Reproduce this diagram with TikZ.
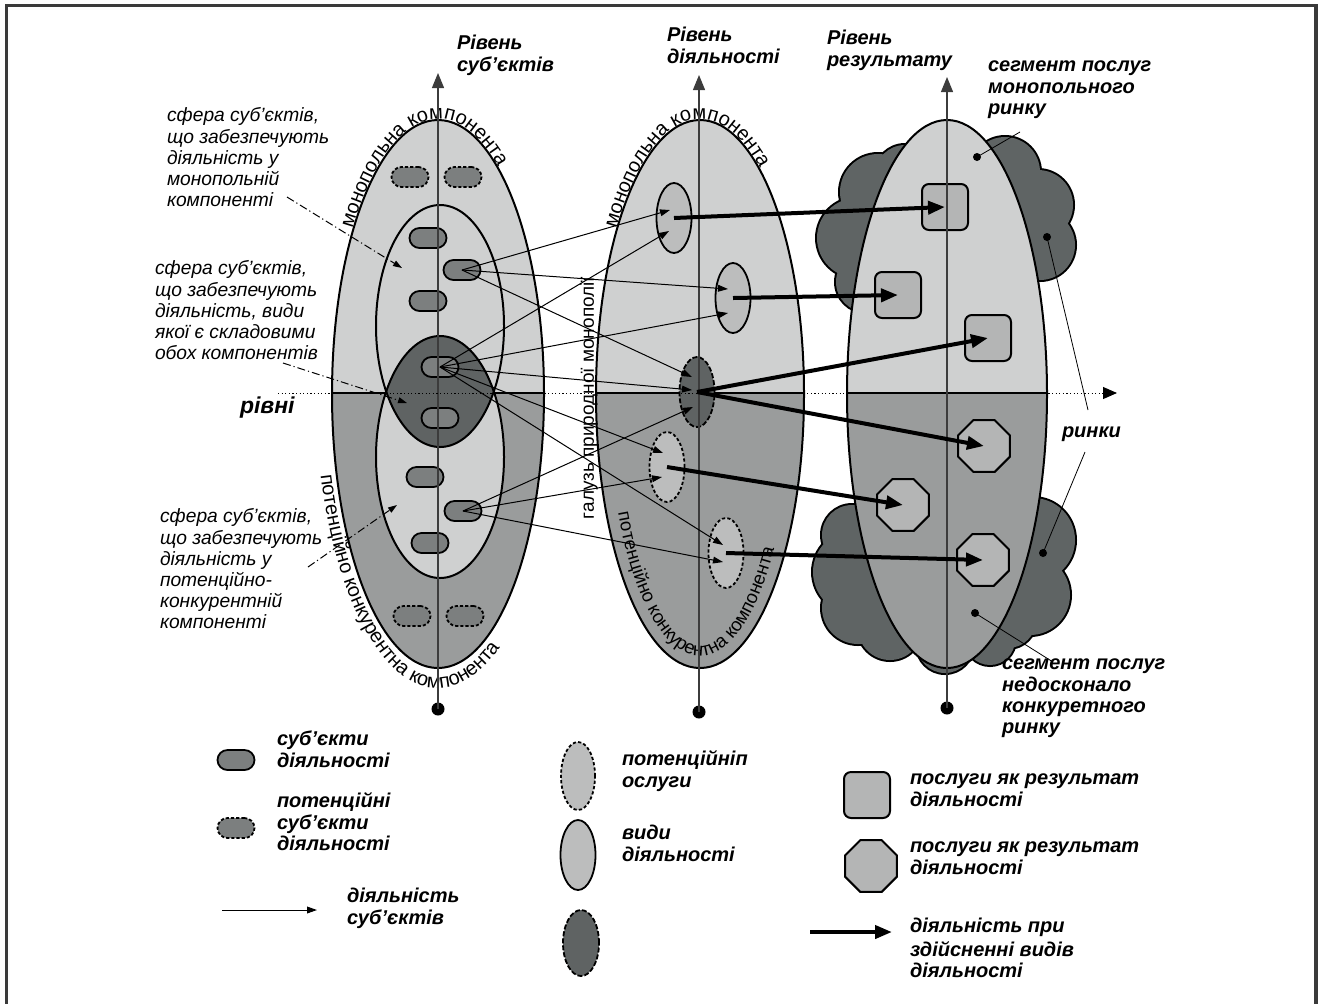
\documentclass[tikz,border=0pt]{standalone}
\usepackage{fontspec}
\setmainfont{Liberation Sans}
\usetikzlibrary{arrows.meta,shapes.geometric,decorations.text}

\definecolor{lightgr}{HTML}{CFD0D0}
\definecolor{midgr}{HTML}{9A9C9C}
\definecolor{darkgr}{HTML}{5F6363}
\definecolor{subjgr}{HTML}{7C7F7F}
\definecolor{resgr}{HTML}{B4B5B5}
\definecolor{actgr}{HTML}{BCBDBD}
\definecolor{axisgr}{HTML}{3C3C3C}
\definecolor{framegr}{HTML}{3A3A3A}
\definecolor{cloudgr}{HTML}{5F6464}

\newcommand\curvefont{\fontsize{10}{10}\selectfont}
\newcommand\innercurvefont{\fontsize{9.3}{9.3}\selectfont}
\newcommand\lblfont{\fontsize{10}{10.6}\selectfont}
\newcommand\sidefont{\fontsize{9.6}{10.6}\selectfont}

\begin{document}
\begin{tikzpicture}[x=0.5pt,y=-0.5pt,
  every node/.style={inner sep=0pt, outer sep=0pt},
  bigell/.style={draw=black, line width=1pt},
  subj/.style={draw=black, line width=0.9pt, fill=subjgr, rounded corners=5pt,
    minimum width=18.5pt, minimum height=10pt},
  psubj/.style={subj, dash pattern=on 1.6pt off 1pt},
  act/.style={ellipse, draw=black, line width=0.9pt, fill=actgr,
    minimum width=17.5pt, minimum height=35pt},
  pact/.style={act, dash pattern=on 1.6pt off 1.1pt},
  dact/.style={act, fill=darkgr, dash pattern=on 2.5pt off 1pt},
  res/.style={draw=black, line width=1pt, fill=resgr, rounded corners=3.5pt, minimum size=23pt},
  octo/.style={regular polygon, regular polygon sides=8, draw=black, line width=1pt,
    fill=resgr, minimum size=28pt},
  thinarr/.style={line width=0.5pt, -{Triangle[length=5pt,width=3.4pt]}},
  thickarr/.style={line width=2pt, -{Triangle[length=8.5pt,width=6.5pt]}},
  leader/.style={line width=0.5pt, dash pattern=on 4pt off 1.5pt on 0.6pt off 1.5pt,
    -{Triangle[length=4.5pt,width=3pt]}},
  leadline/.style={line width=0.4pt},
  blackdot/.style={circle, fill=black, minimum size=4pt},
  axisdot/.style={circle, fill=black, minimum size=6.5pt},
  axisline/.style={draw=axisgr, line width=0.6pt, -{Triangle[length=7.5pt,width=6pt]}},
  lbl/.style={anchor=north west, align=left, font=\sidefont\itshape},
  blbl/.style={anchor=north west, align=left, font=\lblfont\bfseries\itshape},
]
\useasboundingbox (0,0) rectangle (1338,1003);

% outer frame
\draw[framegr, line width=1.6pt] (6.5,1010) -- (6.5,5.5) -- (1316,5.5) -- (1316,1010);

% market clouds behind the result level
\def\cloudparts{905/175/30, 878/192/38, 857/238/40, 866/282/30, 1005/172/35,
  1038/205/35, 1040/245/35, 852/535/30, 855/572/42, 858/608/36, 890/628/32,
  945/645/28, 990/640/25, 1033/540/42, 1030/595/40, 1008/620/28}
\foreach \cx/\cy/\r in \cloudparts {\draw[line width=2pt] (\cx,\cy) circle[radius=\r];}
\foreach \cx/\cy/\r in \cloudparts {\fill[cloudgr] (\cx,\cy) circle[radius=\r];}

% the three levels: monopoly half on top, competitive half below
\foreach \cx/\rx in {438/106,700/104,947/100}{
  \begin{scope}
    \clip (\cx,394) ellipse[x radius=\rx, y radius=274];
    \fill[lightgr] (\cx-120,100) rectangle (\cx+120,393);
    \fill[midgr] (\cx-120,393) rectangle (\cx+120,700);
    \draw[line width=0.8pt] (\cx-120,393) -- (\cx+120,393);
  \end{scope}
  \draw[bigell] (\cx,394) ellipse[x radius=\rx, y radius=274];
}

% spheres of subjects and their overlap
\fill[lightgr] (440,326) ellipse[x radius=64, y radius=121];
\fill[lightgr] (440,457) ellipse[x radius=64, y radius=121];
\begin{scope}
  \clip (440,326) ellipse[x radius=64, y radius=121];
  \fill[darkgr] (440,457) ellipse[x radius=64, y radius=121];
\end{scope}
\draw[bigell] (440,326) ellipse[x radius=64, y radius=121];
\draw[bigell] (440,457) ellipse[x radius=64, y radius=121];

% curved component captions
\path[decorate, decoration={text along path, text={|\curvefont|монопольна компонента}}]
  (438,394) ++(-143:107 and 275) arc[start angle=-143, end angle=-10, x radius=107, y radius=275];
\path[decorate, decoration={text along path, text={|\curvefont|монопольна компонента}}]
  (700,394) ++(-143:105 and 275) arc[start angle=-143, end angle=-10, x radius=105, y radius=275];
\path[decorate, decoration={text along path, text={|\curvefont|потенційно конкурентна компонента}}]
  (438,394) ++(-196:122 and 294) arc[start angle=-196, end angle=-345, x radius=122, y radius=294];
\path[decorate, decoration={text along path, text={|\innercurvefont|потенційно конкурентна компонента}}]
  (700,394) ++(-207:92 and 262) arc[start angle=-207, end angle=-350, x radius=92, y radius=262];

\node[rotate=90, font=\fontsize{9.5}{9.5}\selectfont] (branch) at (589,398) {галузь природної монополії};

% subjects
\node[psubj] (p1) at (410,177) {};
\node[psubj] (p2) at (463,177) {};
\node[subj] (s1) at (428,238) {};
\node[subj] (s2) at (462,270) {};
\node[subj] (s3) at (428,301) {};
\node[subj] (s4) at (440,367) {};
\node[subj] (s5) at (440,418) {};
\node[subj] (s6) at (425,477) {};
\node[subj] (s7) at (463,511) {};
\node[subj] (s8) at (430,543) {};
\node[psubj] (p3) at (412,616) {};
\node[psubj] (p4) at (465,616) {};

% kinds of activity
\node[act] (a1) at (674,218) {};
\node[act] (a2) at (733,298) {};
\node[dact] (a3) at (697,392) {};
\node[pact] (a4) at (667,467) {};
\node[pact] (a5) at (726,553) {};

% services as results
\node[res] (r1) at (945,207) {};
\node[res] (r2) at (898,295) {};
\node[res] (r3) at (988,338) {};
\node[octo] (o1) at (984,446) {};
\node[octo] (o2) at (903,505) {};
\node[octo] (o3) at (983,560) {};

% level axes
\node[axisdot] (b1) at (438,709) {};
\node[axisdot] (b2) at (699,712) {};
\node[axisdot] (b3) at (947,708) {};
\coordinate (u1) at (438,73);
\coordinate (u2) at (699,75);
\coordinate (u3) at (947,77);
\draw[axisline] (b1.center) -- (u1);
\draw[axisline] (b2.center) -- (u2);
\draw[axisline] (b3.center) -- (u3);

% level boundary
\coordinate (hz0) at (278,393);
\coordinate (hz1) at (1117,393);
\draw[line width=0.5pt, dash pattern=on 0.6pt off 1.2pt, -{Triangle[length=7pt,width=6pt]}] (hz0) -- (hz1);
\node[anchor=base west, font=\fontsize{11.5}{12}\selectfont\bfseries\itshape] (lv) at (240,413) {рівні};

% activity of subjects
\coordinate (a1i1) at (670,210);
\coordinate (a1i2) at (669,231);
\coordinate (a2i1) at (728,289);
\coordinate (a2i2) at (728,313);
\coordinate (a3i1) at (692,377);
\coordinate (a3i2) at (692,390);
\coordinate (a3i3) at (693,407);
\coordinate (a4i1) at (663,453);
\coordinate (a4i2) at (662,477);
\coordinate (a5i1) at (723,545);
\coordinate (a5i2) at (723,562);
\draw[thinarr] (s2.center) -- (a1i1);
\draw[thinarr] (s4.center) -- (a1i2);
\draw[thinarr] (s2.center) -- (a2i1);
\draw[thinarr] (s4.center) -- (a2i2);
\draw[thinarr] (s2.center) -- (a3i1);
\draw[thinarr] (s4.center) -- (a3i2);
\draw[thinarr] (s7.center) -- (a3i3);
\draw[thinarr] (s4.center) -- (a4i1);
\draw[thinarr] (s7.center) -- (a4i2);
\draw[thinarr] (s4.center) -- (a5i1);
\draw[thinarr] (s7.center) -- (a5i2);

% activity producing services
\draw[thickarr] (a1.center) -- (r1.center);
\draw[thickarr] (a2.center) -- (r2.center);
\draw[thickarr] (a3.center) -- (r3.center);
\draw[thickarr] (a3.center) -- (o1.center);
\draw[thickarr] (a4.center) -- (o2.center);
\draw[thickarr] (a5.center) -- (o3.center);

% level captions
\node[blbl] (h1) at (457,35) {\strut Рівень\\суб'єктів};
\node[blbl] (h2) at (667,27) {\strut Рівень\\діяльності};
\node[blbl] (h3) at (827,30) {\strut Рівень\\результату};

% captions on the left with their leaders
\node[lbl] (c1) at (167,107) {\strut сфера суб'єктів,\\що забезпечують\\діяльність у\\монопольній\\компоненті};
\node[lbl] (c2) at (155,260) {\strut сфера суб'єктів,\\що забезпечують\\діяльність, види\\якої є складовими\\обох компонентів};
\node[lbl] (c3) at (160,508) {\strut сфера суб'єктів,\\що забезпечують\\діяльність у\\потенційно-\\конкурентній\\компоненті};
\coordinate (c1a) at (287,197);
\coordinate (c1b) at (402,268);
\coordinate (c2a) at (283,363);
\coordinate (c2b) at (407,403);
\coordinate (c3a) at (308,567);
\coordinate (c3b) at (397,505);
\draw[leader] (c1a) -- (c1b);
\draw[leader] (c2a) -- (c2b);
\draw[leader] (c3a) -- (c3b);

% captions on the right with their pointers
\node[blbl] (m1) at (988,57) {\strut сегмент послуг\\монопольного\\ринку};
\node[blbl] (m2) at (1062,423) {\strut ринки};
\node[blbl] (m3) at (1002,655) {\strut сегмент послуг\\недосконало\\конкуретного\\ринку};
\node[blackdot] (d1) at (977,157) {};
\node[blackdot] (d2) at (1047,237) {};
\node[blackdot] (d3) at (1043,553) {};
\node[blackdot] (d4) at (975,613) {};
\coordinate (e1) at (1020,132);
\coordinate (e2) at (1088,410);
\coordinate (e3) at (1085,452);
\coordinate (e4) at (1053,662);
\draw[leadline] (d1.center) -- (e1);
\draw[leadline] (d2.center) -- (e2);
\draw[leadline] (d3.center) -- (e3);
\draw[leadline] (d4.center) -- (e4);

% legend
\node[subj] (k1) at (236,760) {};
\node[blbl] (k1t) at (277,731) {\strut суб'єкти\\діяльності};
\node[psubj] (k2) at (236,828) {};
\node[blbl] (k2t) at (277,793) {\strut потенційні\\суб'єкти\\діяльності};
\coordinate (k3a) at (222,910);
\coordinate (k3b) at (317,910);
\draw[thinarr] (k3a) -- (k3b);
\node[blbl] (k3t) at (347,888) {\strut діяльність\\суб'єктів};

\node[pact, minimum width=17pt, minimum height=34pt] (k4) at (578,776) {};
\node[blbl] (k4t) at (622,751) {\strut потенційніп\\ослуги};
\node[act] (k5) at (578,855) {};
\node[blbl] (k5t) at (622,825) {\strut види\\діяльності};
\node[dact, minimum width=18pt, minimum height=33pt] (k6) at (581,943) {};

\node[res] (k7) at (867,795) {};
\node[blbl] (k7t) at (910,770) {\strut послуги як результат\\діяльності};
\node[octo] (k8) at (871,866) {};
\node[blbl] (k8t) at (910,838) {\strut послуги як результат\\діяльності};
\coordinate (k9a) at (810,932);
\coordinate (k9b) at (892,932);
\draw[thickarr] (k9a) -- (k9b);
\node[blbl] (k9t) at (910,918) {\strut діяльність при\\здійсненні видів\\діяльності};
\end{tikzpicture}
\end{document}
